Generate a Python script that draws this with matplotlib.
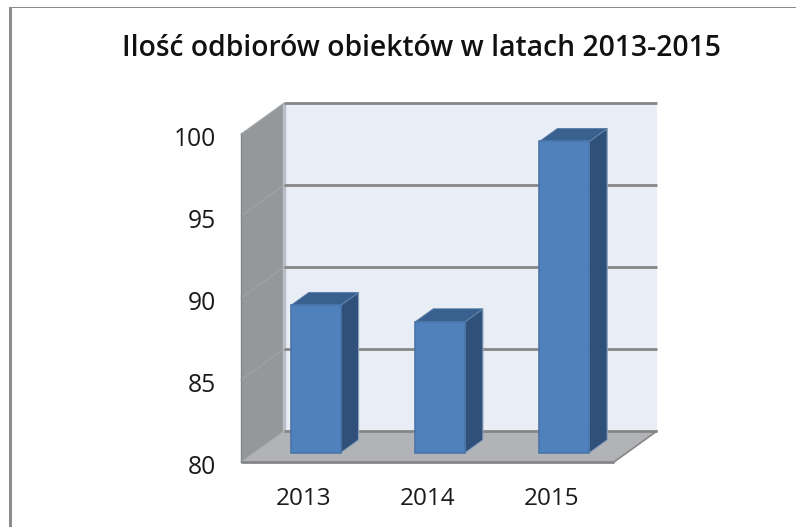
import matplotlib
matplotlib.use("Agg")
import matplotlib.pyplot as plt
from matplotlib.patches import Polygon, Rectangle
from matplotlib.transforms import ScaledTranslation

lata = ["2013", "2014", "2015"]
odbiory = [89, 88, 99]
y_ticks = [80, 85, 90, 95, 100]
tytul = "Ilość odbiorów obiektów w latach 2013-2015"

W, H = 796, 527
# glebokosc 3D w jednostkach danych
DX = 0.346
DY = 1.89
BAR_W = 0.40
BAR_D = 0.42  # glebokosc slupka wzgledem sciany
BAR_OFF = 0.29


def poly(ax, pts, color, ec="none", lw=0, z=1):
    ax.add_patch(Polygon(pts, closed=True, facecolor=color, edgecolor=ec, linewidth=lw, zorder=z, clip_on=False))


def rysuj_slupek(ax, i, v):
    x0 = i - BAR_W / 2 + BAR_OFF * DX
    x1 = x0 + BAR_W
    sx = BAR_D * DX
    sy = BAR_D * DY
    y0 = y_ticks[0] + BAR_OFF * DY
    yt = y0 + (v - y_ticks[0])
    # bok
    poly(ax, [(x1, y0), (x1 + sx, y0 + sy), (x1 + sx, yt + sy), (x1, yt)], "#2f5179", "#8ea3bd", 0.8, 5)
    # gora
    poly(ax, [(x0, yt), (x0 + sx, yt + sy), (x1 + sx, yt + sy), (x1, yt)], "#38618f", "#5a7ea8", 0.6, 5)
    # przod
    poly(ax, [(x0, y0), (x1, y0), (x1, yt), (x0, yt)], "#4f81bd", "#4a76ab", 1.2, 6)


fig = plt.figure(figsize=(W / 100, H / 100), dpi=100)
ax = fig.add_axes([241 / W, 1 - 462 / H, 373 / W, 328 / H])
ax.set_xlim(-0.5, 2.5)
ax.set_ylim(y_ticks[0], y_ticks[-1])
ax.patch.set_visible(False)
for s in ax.spines.values():
    s.set_visible(False)

xl, xr = -0.5, 2.5
yb, yt = y_ticks[0], y_ticks[-1]

# sciana tylna
poly(ax, [(xl + DX, yb + DY), (xr + DX, yb + DY), (xr + DX, yt + DY), (xl + DX, yt + DY)], "#e9edf6", z=1)
# sciana boczna
poly(ax, [(xl, yb), (xl + DX, yb + DY), (xl + DX, yt + DY), (xl, yt)], "#95989b", z=1)
ax.plot([xl + DX, xl + DX], [yb + DY, yt + DY], color="#b9bec9", lw=2.5, zorder=2, clip_on=False,
        solid_capstyle="butt")
# podloga
poly(ax, [(xl, yb), (xr, yb), (xr + DX, yb + DY), (xl + DX, yb + DY)], "#b1b3b6", z=2)

# siatka
for v in y_ticks:
    ax.plot([xl + DX, xr + DX], [v + DY, v + DY], color="#868686", lw=2, zorder=3, clip_on=False,
            solid_capstyle="butt")
    ax.plot([xl, xl + DX], [v, v + DY], color="#a3a6a9", lw=0.7, zorder=3, clip_on=False)
ax.plot([xl, xr], [yb, yb], color="#868686", lw=2, zorder=3, clip_on=False, solid_capstyle="butt")
ax.plot([xr, xr + DX], [yb, yb + DY], color="#868686", lw=1.2, zorder=3, clip_on=False)
ax.plot([xl, xl], [yb, yt], color="#84878a", lw=1, zorder=3, clip_on=False)

for i, v in enumerate(odbiory):
    rysuj_slupek(ax, i, v)

ax.set_xticks(range(len(lata)))
ax.set_xticklabels(lata, fontsize=17.5, family="Open Sans", color="#1a1a1a")
ax.set_yticks(y_ticks)
ax.set_yticklabels(y_ticks, fontsize=17.7, family="Open Sans", color="#1a1a1a")
ax.tick_params(axis="both", length=0)
ax.tick_params(axis="x", pad=18)
ax.tick_params(axis="y", pad=18)
# etykiety osi Y troche nizej
przesun = ScaledTranslation(0, -2.5 / 100, fig.dpi_scale_trans)
for lab in ax.get_yticklabels():
    lab.set_transform(lab.get_transform() + przesun)

fig.text(421 / W, 1 - 49 / H, tytul, fontsize=20.3, family="Open Sans", fontweight="semibold",
         color="#111111", ha="center", va="center")

# ramka
fig.add_artist(Rectangle((9 / W, 0), 3 / W, 1 - 7 / H, transform=fig.transFigure, color="#8c8c8c", lw=0))
fig.add_artist(Rectangle((9 / W, 1 - 8 / H), (W - 9) / W, 1.5 / H, transform=fig.transFigure, color="#8c8c8c", lw=0))

fig.savefig("out.png", dpi=100)
